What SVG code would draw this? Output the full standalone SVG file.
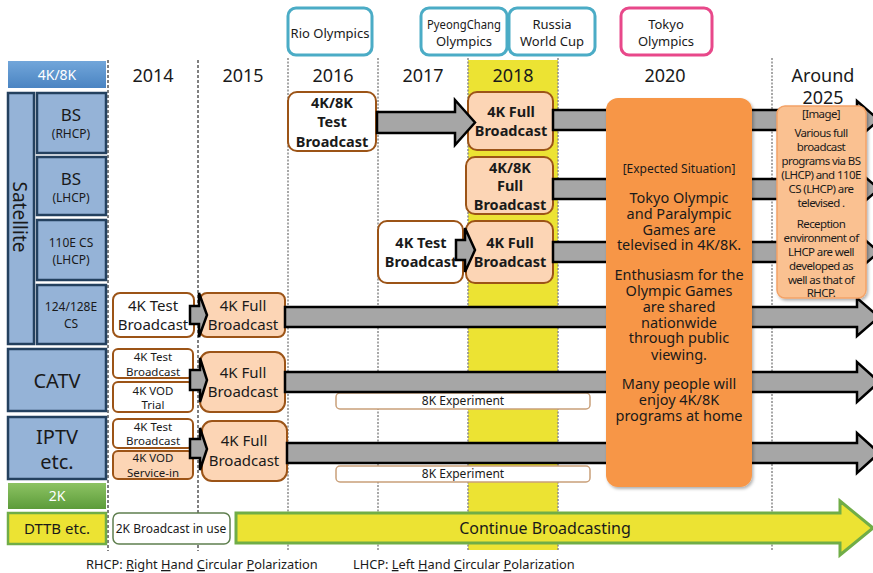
<svg xmlns="http://www.w3.org/2000/svg" width="873" height="573" viewBox="0 0 873 573">
  <defs>
    <linearGradient id="gBlue" x1="0" y1="0" x2="0" y2="1">
      <stop offset="0" stop-color="#72a6da"/>
      <stop offset="1" stop-color="#4a84c2"/>
    </linearGradient>
    <linearGradient id="gGreen" x1="0" y1="0" x2="0" y2="1">
      <stop offset="0" stop-color="#8dc363"/>
      <stop offset="1" stop-color="#5c9b3a"/>
    </linearGradient>
    <filter id="shadow" x="-10%" y="-10%" width="130%" height="130%">
      <feDropShadow dx="1.5" dy="2" stdDeviation="1.5" flood-color="#000" flood-opacity="0.3"/>
    </filter>
  </defs>
  <style>
    text { font-family: "Noto Sans", "Open Sans", "DejaVu Sans", sans-serif; fill: #1a1a1a; text-anchor: middle; }
    .yr { font-size: 18px; }
    .ev { fill: #fff; stroke: #4bacc6; stroke-width: 3; }
    .evt { font-size: 13px; }
    .side { fill: #95b3d7; stroke: #24415f; stroke-width: 2.5; }
    .node { stroke: #9c5417; stroke-width: 2; }
    .white { fill: #fff; }
    .peach { fill: #fcd5b5; }
    .b { font-weight: bold; font-size: 14.5px; }
    .m { font-size: 15px; }
    .s { font-size: 11.5px; }
    .vdash { stroke: #000; stroke-width: 1; stroke-dasharray: 3 2; }
    .vdot { stroke: #8a8a8a; stroke-width: 1.5; stroke-dasharray: 2 1.5; }
    .arr { fill: #a6a6a6; stroke: #000; stroke-width: 2.5; stroke-linejoin: miter; }
    .exp { fill: #fff; stroke: #c9a07a; stroke-width: 1.5; }
    .ul { text-decoration: underline; }
  </style>

  <!-- 2018 highlighted column -->
  <rect x="468" y="60" width="90" height="490" fill="#ece333"/>

  <!-- year grid lines -->
  <g id="grid">
    <line class="vdash" x1="108" y1="60" x2="108" y2="551"/>
    <line class="vdash" x1="198" y1="60" x2="198" y2="551"/>
    <line class="vdot" x1="288" y1="58" x2="288" y2="551"/>
    <line class="vdot" x1="378" y1="58" x2="378" y2="551"/>
    <line class="vdot" x1="468" y1="58" x2="468" y2="551"/>
    <line class="vdot" x1="558" y1="58" x2="558" y2="551"/>
    <line class="vdot" x1="772" y1="58" x2="772" y2="551"/>
  </g>

  <!-- year headings -->
  <g id="years">
    <text class="yr" x="153" y="82">2014</text>
    <text class="yr" x="243" y="82">2015</text>
    <text class="yr" x="333" y="82">2016</text>
    <text class="yr" x="423" y="82">2017</text>
    <text class="yr" x="513" y="82">2018</text>
    <text class="yr" x="665" y="82">2020</text>
    <text class="yr" x="823" y="82">Around</text>
    <text class="yr" x="823" y="104">2025</text>
  </g>

  <!-- events -->
  <g id="ev-rio">
    <rect class="ev" x="288" y="8" width="84" height="47" rx="8"/>
    <text class="evt" x="330" y="38">Rio Olympics</text>
  </g>
  <g id="ev-pyeongchang">
    <rect class="ev" x="421" y="8" width="86" height="47" rx="8"/>
    <text class="evt" x="464" y="29" textLength="74" lengthAdjust="spacingAndGlyphs">PyeongChang</text>
    <text class="evt" x="464" y="46">Olympics</text>
  </g>
  <g id="ev-russia">
    <rect class="ev" x="509" y="8" width="86" height="47" rx="8"/>
    <text class="evt" x="552" y="29">Russia</text>
    <text class="evt" x="552" y="46">World Cup</text>
  </g>
  <g id="ev-tokyo">
    <rect class="ev" x="621" y="8" width="91" height="47" rx="8" style="stroke:#e8488a"/>
    <text class="evt" x="666" y="29">Tokyo</text>
    <text class="evt" x="666" y="46">Olympics</text>
  </g>

  <!-- media categories -->
  <g id="cat-4k8k">
    <rect x="8" y="61" width="98" height="27" fill="url(#gBlue)"/>
    <text x="57" y="80" style="font-size:14px;fill:#fff">4K/8K</text>
  </g>
  <g id="cat-satellite">
    <rect class="side" x="8" y="93" width="26" height="251"/>
    <text x="0" y="0" transform="translate(13,217) rotate(90)" style="font-size:19px">Satellite</text>
  </g>
  <g id="cat-bs-rhcp">
    <rect class="side" x="37" y="93" width="69" height="60"/>
    <text x="71" y="121" style="font-size:17px">BS</text>
    <text x="71" y="138" style="font-size:12px">(RHCP)</text>
  </g>
  <g id="cat-bs-lhcp">
    <rect class="side" x="37" y="157" width="69" height="58"/>
    <text x="71" y="185" style="font-size:17px">BS</text>
    <text x="71" y="202" style="font-size:12px">(LHCP)</text>
  </g>
  <g id="cat-110e">
    <rect class="side" x="37" y="220" width="69" height="60"/>
    <text x="71" y="247" style="font-size:12px">110E CS</text>
    <text x="71" y="264" style="font-size:12px">(LHCP)</text>
  </g>
  <g id="cat-124e">
    <rect class="side" x="37" y="285" width="69" height="59"/>
    <text x="71" y="311" style="font-size:12px">124/128E</text>
    <text x="71" y="328" style="font-size:12px">CS</text>
  </g>
  <g id="cat-catv">
    <rect class="side" x="8" y="349" width="98" height="62"/>
    <text x="57" y="388" style="font-size:20px">CATV</text>
  </g>
  <g id="cat-iptv">
    <rect class="side" x="8" y="417" width="98" height="62"/>
    <text x="57" y="444" style="font-size:20px">IPTV</text>
    <text x="57" y="469" style="font-size:20px">etc.</text>
  </g>
  <g id="cat-2k">
    <rect x="8" y="483" width="98" height="26" fill="url(#gGreen)"/>
    <text x="57" y="501" style="font-size:14px;fill:#fff">2K</text>
  </g>
  <g id="cat-dttb">
    <rect x="8" y="513" width="98" height="31" fill="#ece333" stroke="#70ad47" stroke-width="2.5"/>
    <text x="57" y="534" style="font-size:15px">DTTB etc.</text>
  </g>

  <!-- broadcast stages -->
  <g id="bs-rhcp-test">
    <rect class="node white" x="288" y="92" width="88" height="59" rx="9"/>
    <text class="b" x="332" y="108">4K/8K</text>
    <text class="b" x="332" y="127">Test</text>
    <text class="b" x="332" y="147">Broadcast</text>
  </g>
  <g id="bs-rhcp-full">
    <rect class="node peach" x="468" y="92" width="85" height="58" rx="9"/>
    <text class="b" x="511" y="117">4K Full</text>
    <text class="b" x="511" y="136">Broadcast</text>
  </g>
  <g id="bs-lhcp-full">
    <rect class="node peach" x="466" y="157" width="87" height="57" rx="9"/>
    <text class="b" x="510" y="173">4K/8K</text>
    <text class="b" x="510" y="191">Full</text>
    <text class="b" x="510" y="210">Broadcast</text>
  </g>
  <g id="cs110-test">
    <rect class="node white" x="378" y="221" width="85" height="62" rx="9"/>
    <text class="b" x="421" y="248">4K Test</text>
    <text class="b" x="421" y="267">Broadcast</text>
  </g>
  <g id="cs110-full">
    <rect class="node peach" x="466" y="221" width="87" height="62" rx="9"/>
    <text class="b" x="510" y="248">4K Full</text>
    <text class="b" x="510" y="267">Broadcast</text>
  </g>
  <g id="cs124-test">
    <rect class="node white" x="113" y="293" width="81" height="44" rx="7"/>
    <text class="m" x="153" y="311">4K Test</text>
    <text class="m" x="153" y="330">Broadcast</text>
  </g>
  <g id="cs124-full">
    <rect class="node peach" x="200" y="293" width="85" height="44" rx="7"/>
    <text class="m" x="243" y="311">4K Full</text>
    <text class="m" x="243" y="330">Broadcast</text>
  </g>
  <g id="catv-test">
    <rect class="node white" x="113" y="349" width="80" height="29" rx="5"/>
    <text class="s" x="153" y="361">4K Test</text>
    <text class="s" x="153" y="376">Broadcast</text>
  </g>
  <g id="catv-vod">
    <rect class="node white" x="113" y="382" width="80" height="30" rx="5"/>
    <text class="s" x="153" y="395">4K VOD</text>
    <text class="s" x="153" y="409">Trial</text>
  </g>
  <g id="catv-full">
    <rect class="node peach" x="200" y="352" width="85" height="60" rx="10"/>
    <text class="m" x="243" y="378">4K Full</text>
    <text class="m" x="243" y="397">Broadcast</text>
  </g>
  <g id="catv-8k">
    <rect class="exp" x="336" y="393" width="254" height="16" rx="4"/>
    <text x="463" y="405" style="font-size:12px">8K Experiment</text>
  </g>
  <g id="iptv-test">
    <rect class="node white" x="113" y="419" width="80" height="29" rx="5"/>
    <text class="s" x="153" y="431">4K Test</text>
    <text class="s" x="153" y="445">Broadcast</text>
  </g>
  <g id="iptv-vod">
    <rect class="node peach" x="113" y="451" width="80" height="28" rx="5"/>
    <text class="s" x="153" y="462">4K VOD</text>
    <text class="s" x="153" y="477">Service-in</text>
  </g>
  <g id="iptv-full">
    <rect class="node peach" x="202" y="421" width="85" height="60" rx="10"/>
    <text class="m" x="244" y="446">4K Full</text>
    <text class="m" x="244" y="466">Broadcast</text>
  </g>
  <g id="iptv-8k">
    <rect class="exp" x="336" y="466" width="254" height="16" rx="4"/>
    <text x="463" y="478" style="font-size:12px">8K Experiment</text>
  </g>
  <g id="dttb-2k">
    <rect x="113" y="513" width="117" height="31" rx="6" fill="#fff" stroke="#5f7f4f" stroke-width="1.5"/>
    <text x="171" y="533" style="font-size:12px">2K Broadcast in use</text>
  </g>

  <!-- block arrows -->
  <g id="connectors">
    <polygon class="arr" points="553,110 857,110 857,101 879,120 857,139 857,130 553,130"/>
    <polygon class="arr" points="553,179 857,179 857,170 879,189 857,208 857,199 553,199"/>
    <polygon class="arr" points="553,242 857,242 857,233 879,252 857,271 857,262 553,262"/>
    <polygon class="arr" points="285,307 857,307 857,298 879,317 857,336 857,327 285,327"/>
    <polygon class="arr" points="285,372 857,372 857,362 879,382 857,402 857,392 285,392"/>
    <polygon class="arr" points="287,443 857,443 857,433 879,453 857,473 857,463 287,463"/>
    <polygon class="arr" points="377,112 455,112 455,100 475,122.5 455,145 455,133 377,133"/>
    <polygon class="arr" points="456,240 465,240 465,228 475,250 465,272 465,260 456,260"/>
    <polygon class="arr" points="190,306 199,306 199,293 207,315 199,337 199,324 190,324"/>
    <polygon class="arr" points="190,370 200,370 200,358 207,380 200,402 200,390 190,390"/>
    <polygon class="arr" points="190,439 200,439 200,428 207,449 200,470 200,458 190,458"/>
    <polygon points="236,513 840,513 840,501 873,528 840,555 840,543 236,543" fill="#ece333" stroke="#70ad47" stroke-width="3"/>
    <text x="545" y="534" style="font-size:16px">Continue Broadcasting</text>
  </g>

  <!-- expected situation in 2020 -->
  <g id="expected">
    <rect x="606" y="98" width="146" height="389" rx="12" fill="#f79646" filter="url(#shadow)"/>
    <text x="679" y="173" style="font-size:12px">[Expected Situation]</text>
    <g style="font-size:14.5px">
      <text x="679" y="203">Tokyo Olympic</text>
      <text x="679" y="219">and Paralympic</text>
      <text x="679" y="235">Games are</text>
      <text x="679" y="250">televised in 4K/8K.</text>
      <text x="679" y="280">Enthusiasm for the</text>
      <text x="679" y="296">Olympic Games</text>
      <text x="679" y="312">are shared</text>
      <text x="679" y="328">nationwide</text>
      <text x="679" y="343">through public</text>
      <text x="679" y="360">viewing.</text>
      <text x="679" y="389">Many people will</text>
      <text x="679" y="405">enjoy 4K/8K</text>
      <text x="679" y="421">programs at home</text>
    </g>
  </g>

  <!-- outlook around 2025 -->
  <g id="outlook">
    <rect x="777" y="106" width="89" height="192" rx="8" fill="#fac191" stroke="#f3a367" stroke-width="1.5" filter="url(#shadow)"/>
    <g style="font-size:11.5px;letter-spacing:-0.6px">
      <text x="821" y="118">[Image]</text>
      <text x="821" y="137">Various full</text>
      <text x="821" y="151">broadcast</text>
      <text x="821" y="165">programs via BS</text>
      <text x="821" y="179">(LHCP) and 110E</text>
      <text x="821" y="193">CS (LHCP) are</text>
      <text x="821" y="207">televised .</text>
      <text x="821" y="228">Reception</text>
      <text x="821" y="242">environment  of</text>
      <text x="821" y="256">LHCP are well</text>
      <text x="821" y="270">developed as</text>
      <text x="821" y="284">well as that of</text>
      <text x="821" y="297">RHCP.</text>
    </g>
  </g>

  <!-- legend -->
  <g id="legend" style="font-size:12.8px">
    <text x="86" y="569" style="text-anchor:start">RHCP: <tspan class="ul">R</tspan>ight <tspan class="ul">H</tspan>and <tspan class="ul">C</tspan>ircular <tspan class="ul">P</tspan>olarization</text>
    <text x="353" y="569" style="text-anchor:start">LHCP: <tspan class="ul">L</tspan>eft <tspan class="ul">H</tspan>and <tspan class="ul">C</tspan>ircular <tspan class="ul">P</tspan>olarization</text>
  </g>
</svg>
